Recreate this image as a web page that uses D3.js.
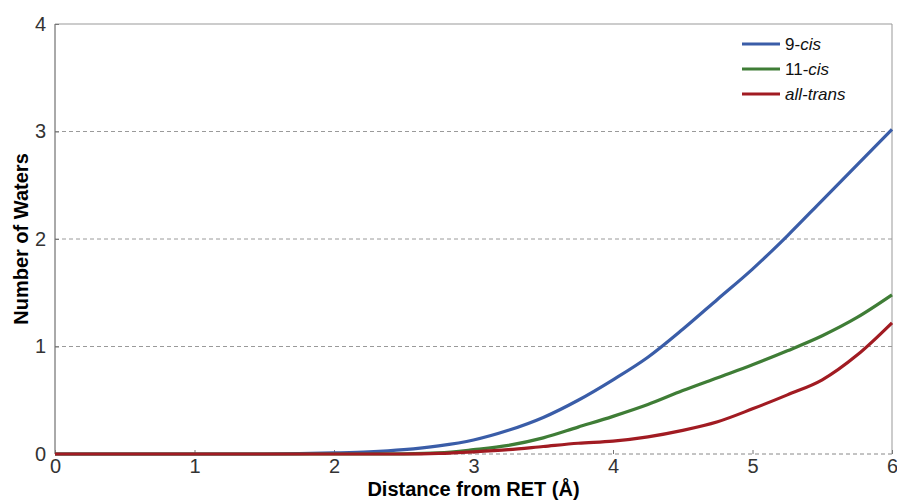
<!DOCTYPE html>
<html>
<head>
<meta charset="utf-8">
<script src="https://cdn.jsdelivr.net/npm/d3@7"></script>
<style>
  body { margin: 0; background: #fff; }
  text { font-family: "Liberation Sans", Arial, Helvetica, sans-serif; }
</style>
</head>
<body>
<div id="chart"></div>
<script>
// distance (Å) sampled every 0.25
var distance = [0, 0.25, 0.5, 0.75, 1, 1.25, 1.5, 1.75, 2, 2.25, 2.5, 2.75, 3, 3.25, 3.5, 3.75, 4, 4.25, 4.5, 4.75, 5, 5.25, 5.5, 5.75, 6];
var cis9 =     [0, 0, 0, 0, 0, 0, 0, 0.003, 0.01, 0.02, 0.04, 0.075, 0.13, 0.22, 0.34, 0.50, 0.69, 0.90, 1.16, 1.44, 1.72, 2.03, 2.36, 2.69, 3.02];
var cis11 =    [0, 0, 0, 0, 0, 0, 0, 0, 0, 0, 0.002, 0.01, 0.04, 0.08, 0.15, 0.25, 0.35, 0.46, 0.59, 0.71, 0.83, 0.96, 1.10, 1.27, 1.48];
var allTrans = [0, 0, 0, 0, 0, 0, 0, 0, 0, 0, 0, 0.005, 0.02, 0.04, 0.07, 0.10, 0.12, 0.16, 0.22, 0.30, 0.42, 0.55, 0.69, 0.92, 1.22];
var xTicks = [0, 1, 2, 3, 4, 5, 6];
var yTicks = [0, 1, 2, 3, 4];

var series = [
  { prefix: "9-", em: "cis", values: cis9, color: "#3a5da8" },
  { prefix: "11-", em: "cis", values: cis11, color: "#3f7d36" },
  { prefix: "", em: "all-trans", values: allTrans, color: "#a11b22" }
];

var w = 897, h = 500;
var m = { left: 55, right: 5, top: 24, bottom: 46 };

var svg = d3.select("#chart").append("svg")
  .attr("width", w)
  .attr("height", h);

var x = d3.scaleLinear().domain([0, 6]).range([m.left, w - m.right]);
var y = d3.scaleLinear().domain([0, 4]).range([h - m.bottom, m.top]);

// grid lines (dashed)
svg.selectAll("line.grid")
  .data(yTicks.filter(function (d) { return d > 0 && d < 4; }))
  .enter().append("line")
  .attr("class", "grid")
  .attr("x1", x(0)).attr("x2", x(6))
  .attr("y1", function (d) { return y(d); })
  .attr("y2", function (d) { return y(d); })
  .attr("stroke", "#9a9a9a")
  .attr("stroke-width", 1)
  .attr("stroke-dasharray", "4,3");

// frame
svg.append("line").attr("x1", x(0)).attr("x2", x(6)).attr("y1", y(4)).attr("y2", y(4))
  .attr("stroke", "#999").attr("stroke-width", 1);
svg.append("line").attr("x1", x(6)).attr("x2", x(6)).attr("y1", y(4)).attr("y2", y(0))
  .attr("stroke", "#999").attr("stroke-width", 1);
svg.append("line").attr("x1", x(0)).attr("x2", x(6)).attr("y1", y(0)).attr("y2", y(0))
  .attr("stroke", "#888").attr("stroke-width", 1).attr("stroke-dasharray", "4,3");
svg.append("line").attr("x1", x(0)).attr("x2", x(0)).attr("y1", y(4)).attr("y2", y(0))
  .attr("stroke", "#555").attr("stroke-width", 1);

// x axis
var xAxis = svg.append("g")
  .attr("transform", "translate(0," + y(0) + ")")
  .call(d3.axisBottom(x).tickValues(xTicks).tickFormat(d3.format("d"))
    .tickSizeInner(-4).tickSizeOuter(0).tickPadding(5));
xAxis.select(".domain").remove();
xAxis.selectAll(".tick line").attr("stroke", "#777");
xAxis.selectAll("text").attr("font-size", 20).attr("fill", "#333");

// y axis
var yAxis = svg.append("g")
  .attr("transform", "translate(" + x(0) + ",0)")
  .call(d3.axisLeft(y).tickValues(yTicks).tickFormat(d3.format("d"))
    .tickSizeInner(-4).tickSizeOuter(0).tickPadding(9));
yAxis.select(".domain").remove();
yAxis.selectAll(".tick line").attr("stroke", "#777");
yAxis.selectAll("text").attr("font-size", 20).attr("fill", "#333");

// lines
var line = d3.line()
  .x(function (d, i) { return x(distance[i]); })
  .y(function (d) { return y(d); })
  .curve(d3.curveMonotoneX);

svg.selectAll("path.series")
  .data(series)
  .enter().append("path")
  .attr("class", "series")
  .attr("fill", "none")
  .attr("stroke", function (d) { return d.color; })
  .attr("stroke-width", 3.2)
  .attr("d", function (d) { return line(d.values); });

// legend
var legend = svg.selectAll("g.legend")
  .data(series)
  .enter().append("g")
  .attr("class", "legend")
  .attr("transform", function (d, i) { return "translate(742," + (44 + i * 25) + ")"; });
legend.append("line")
  .attr("x1", 0).attr("x2", 38)
  .attr("stroke", function (d) { return d.color; })
  .attr("stroke-width", 3);
var lt = legend.append("text")
  .attr("x", 43).attr("y", 6)
  .attr("font-size", 17)
  .attr("fill", "#111");
lt.append("tspan").text(function (d) { return d.prefix; });
lt.append("tspan").attr("font-style", "italic").text(function (d) { return d.em; });

// axis titles
svg.append("text")
  .attr("x", (x(0) + x(6)) / 2)
  .attr("y", 496)
  .attr("text-anchor", "middle")
  .attr("font-size", 20)
  .attr("font-weight", "bold")
  .attr("fill", "#000")
  .text("Distance from RET (Å)");

svg.append("text")
  .attr("transform", "translate(28," + ((y(0) + y(4)) / 2) + ") rotate(-90)")
  .attr("text-anchor", "middle")
  .attr("font-size", 20)
  .attr("font-weight", "bold")
  .attr("fill", "#000")
  .text("Number of Waters");
</script>
</body>
</html>
